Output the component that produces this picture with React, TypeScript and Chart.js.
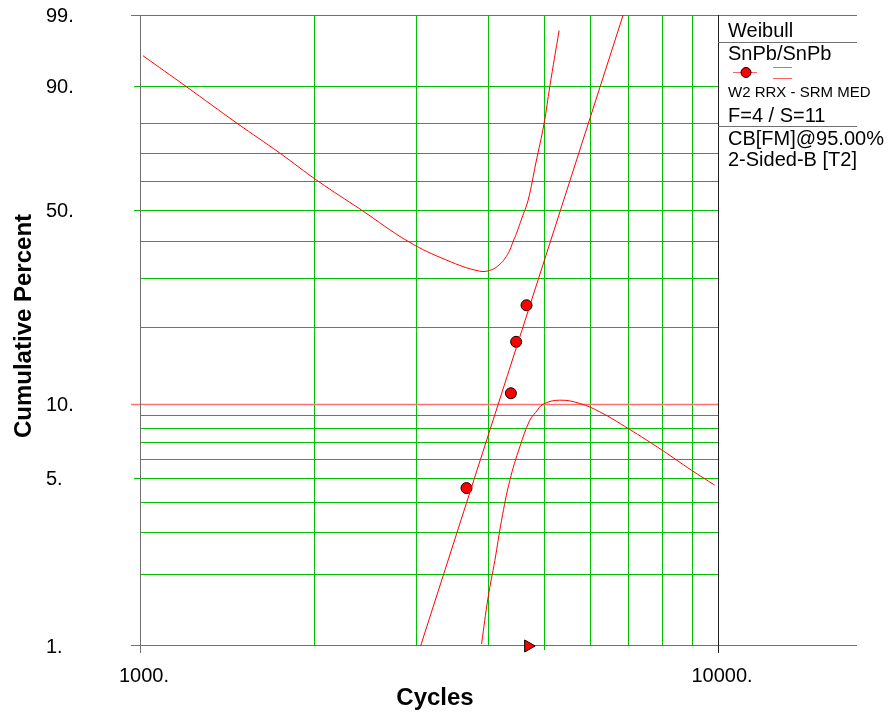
import React, { useEffect, useRef } from "react";
import { Chart, registerables } from "chart.js";

Chart.register(...registerables);

// Failures (median ranks) and the suspension marker
const failureCycles = [3672, 4382, 4475, 4664];
const failurePercent = [4.55, 11.04, 17.53, 24.03];
const suspensionCycles = [4694];
const suspensionPercent = [1];

// Weibull fit line (straight on probability paper)
const fitCycles = [3058, 6853];
const fitPercent = [1, 99];

// Two-sided 95% Fisher-matrix confidence bounds
const upperCycles = [1012, 1201, 1472, 1746, 2034, 2416, 2911, 3391, 3872, 4062, 4194, 4278, 4364, 4416, 4482, 4578, 4694, 4840, 5002, 5117, 5310];
const upperPercent = [95.5, 90, 80, 70, 60, 50, 40, 34.7, 31.8, 32.2, 33.6, 35.1, 37.5, 39.8, 42.5, 47.3, 53.4, 66.5, 80, 90, 98.1];
const lowerCycles = [3899, 4002, 4111, 4222, 4364, 4540, 4725, 4840, 4982, 5325, 5767, 6245, 6991, 8003, 8995, 9869];
const lowerPercent = [1.02, 1.6, 2.28, 3.35, 4.9, 6.71, 8.61, 9.27, 9.98, 10.36, 10.05, 9.3, 7.97, 6.51, 5.39, 4.68];

// Axes and grid
const gridCycles = [2000, 3000, 4000, 5000, 6000, 7000, 8000, 9000];
const xTickLabels = [1000, 10000];
const gridPercent = [2, 3, 4, 5, 6, 7, 8, 9, 20, 30, 40, 50, 60, 70, 80, 90];
const majorPercent = [5, 50, 90];
const referencePercent = 10;
const yTickLabels = [1, 5, 10, 50, 90, 99];
const yMinPercent = 1;
const yMaxPercent = 99;
const xMinCycles = 1000;
const xMaxCycles = 10000;

// Legend panel text
const legendTitle = "Weibull";
const legendGroup = "SnPb/SnPb";
const legendMethod = "W2 RRX - SRM MED";
const legendCounts = "F=4 / S=11";
const legendBounds = ["CB[FM]@95.00%", "2-Sided-B [T2]"];

const FONT = '"Liberation Sans", Arial, Helvetica, sans-serif';
const GREEN = "#00c000";
const AXIS = "#707070";

// Weibull probability-paper ordinate
const wb = (p: number) => Math.log(-Math.log(1 - p / 100));

const toPoints = (xs: number[], ps: number[]) => xs.map((v, i) => ({ x: v, y: wb(ps[i]) }));

const paperPlugin = {
  id: "weibullPaper",
  beforeDatasetsDraw(chart: any) {
    const { ctx, chartArea: a, scales } = chart;
    const xs = scales.x;
    const ys = scales.y;
    const seg = (x0: number, y0: number, x1: number, y1: number) => {
      ctx.beginPath();
      ctx.moveTo(x0, y0);
      ctx.lineTo(x1, y1);
      ctx.stroke();
    };
    ctx.save();
    ctx.lineWidth = 1;
    ctx.strokeStyle = GREEN;
    for (const c of gridCycles) {
      const px = Math.round(xs.getPixelForValue(c)) + 0.5;
      seg(px, a.top, px, a.bottom + (c === 5000 ? 4 : 0));
    }
    for (const p of gridPercent) {
      const py = Math.round(ys.getPixelForValue(wb(p))) + 0.5;
      const x0 = majorPercent.includes(p) ? a.left - 6 : a.left;
      seg(x0, py, a.right, py);
    }
    // reference line at 10 %
    ctx.strokeStyle = "#ff7070";
    ctx.lineWidth = 1.5;
    const pr = Math.round(ys.getPixelForValue(wb(referencePercent))) + 0.5;
    seg(a.left - 9, pr, a.right, pr);

    // frame
    const panelRight = a.right + 139;
    ctx.lineWidth = 1;
    ctx.strokeStyle = AXIS;
    const top = Math.round(a.top) + 0.5;
    const bottom = Math.round(a.bottom) - 0.5;
    seg(a.left - 9, top, panelRight, top);
    seg(a.left - 9, bottom, panelRight, bottom);
    seg(Math.round(a.left) + 0.5, a.top, Math.round(a.left) + 0.5, a.bottom + 7);
    ctx.strokeStyle = "#202020";
    seg(Math.round(a.right) + 0.5, a.top, Math.round(a.right) + 0.5, a.bottom + 7);
    ctx.restore();
  },
  afterDraw(chart: any) {
    const { ctx, chartArea: a, scales } = chart;
    const xs = scales.x;
    const ys = scales.y;
    const seg = (x0: number, y0: number, x1: number, y1: number) => {
      ctx.beginPath();
      ctx.moveTo(x0, y0);
      ctx.lineTo(x1, y1);
      ctx.stroke();
    };
    ctx.save();
    ctx.fillStyle = "#000";
    ctx.font = `20px ${FONT}`;
    ctx.textBaseline = "alphabetic";
    // y tick labels
    ctx.textAlign = "left";
    for (const p of yTickLabels) {
      const py = ys.getPixelForValue(wb(p));
      ctx.fillText(`${p}.`, 46, py + 7);
    }
    // x tick labels
    ctx.textAlign = "center";
    for (const c of xTickLabels) {
      const px = xs.getPixelForValue(c);
      ctx.fillText(`${c}.`, px + 4, 682);
    }
    // axis titles
    ctx.font = `bold 24px ${FONT}`;
    ctx.fillText("Cycles", 435, 705);
    ctx.save();
    ctx.translate(31, 326);
    ctx.rotate(-Math.PI / 2);
    ctx.fillText("Cumulative Percent", 0, 0);
    ctx.restore();

    // legend panel
    const lx = a.right + 10;
    const panelRight = a.right + 139;
    ctx.textAlign = "left";
    ctx.font = `20px ${FONT}`;
    ctx.fillText(legendTitle, lx, 37);
    ctx.fillText(legendGroup, lx, 60);
    ctx.font = `15px ${FONT}`;
    ctx.fillText(legendMethod, lx, 97);
    ctx.font = `20px ${FONT}`;
    ctx.fillText(legendCounts, lx, 122);
    ctx.fillText(legendBounds[0], lx, 145);
    ctx.fillText(legendBounds[1], lx, 166);

    ctx.strokeStyle = AXIS;
    ctx.lineWidth = 1;
    seg(a.right, 42.5, panelRight, 42.5);
    seg(a.right, 126.5, panelRight, 126.5);

    // legend symbols
    ctx.strokeStyle = "#ff6060";
    seg(a.right + 15, 72.5, a.right + 39, 72.5);
    seg(a.right + 55, 67.5, a.right + 74, 67.5);
    seg(a.right + 55, 78.5, a.right + 74, 78.5);
    ctx.beginPath();
    ctx.arc(a.right + 28, 72.5, 5, 0, Math.PI * 2);
    ctx.fillStyle = "#ff0000";
    ctx.fill();
    ctx.strokeStyle = "#000";
    ctx.stroke();
    ctx.restore();
  },
};

export default function App() {
  const canvasRef = useRef<HTMLCanvasElement | null>(null);

  useEffect(() => {
    if (!canvasRef.current) return;
    const chart = new Chart(canvasRef.current, {
      type: "scatter",
      data: {
        datasets: [
          {
            label: "Upper bound",
            data: toPoints(upperCycles, upperPercent),
            showLine: true,
            borderColor: "#ff0000",
            borderWidth: 1,
            pointRadius: 0,
            tension: 0.4,
          },
          {
            label: "Lower bound",
            data: toPoints(lowerCycles, lowerPercent),
            showLine: true,
            borderColor: "#ff0000",
            borderWidth: 1,
            pointRadius: 0,
            tension: 0.4,
          },
          {
            label: "Fit",
            data: toPoints(fitCycles, fitPercent),
            showLine: true,
            borderColor: "#ff0000",
            borderWidth: 1,
            pointRadius: 0,
          },
          {
            label: "Failures",
            data: toPoints(failureCycles, failurePercent),
            showLine: false,
            pointRadius: 5.5,
            pointBackgroundColor: "#ff0000",
            pointBorderColor: "#000",
            pointBorderWidth: 1,
            clip: false,
          },
          {
            label: "Suspensions",
            data: toPoints(suspensionCycles, suspensionPercent),
            showLine: false,
            pointStyle: "triangle",
            rotation: 90,
            pointRadius: 7,
            pointBackgroundColor: "#ff0000",
            pointBorderColor: "#000",
            pointBorderWidth: 1,
            clip: false,
          },
        ],
      } as any,
      options: {
        animation: false,
        responsive: false,
        devicePixelRatio: 1,
        events: [],
        layout: { padding: { left: 140, right: 171, top: 15, bottom: 67 } },
        scales: {
          x: { type: "logarithmic", min: xMinCycles, max: xMaxCycles, display: false },
          y: { type: "linear", min: wb(yMinPercent), max: wb(yMaxPercent), display: false },
        },
        plugins: { legend: { display: false }, tooltip: { enabled: false } },
      } as any,
      plugins: [paperPlugin],
    });
    return () => chart.destroy();
  }, []);

  return (
    <div style={{ position: "fixed", left: 0, top: 0, width: 889, height: 713, background: "#fff" }}>
      <canvas ref={canvasRef} width={889} height={713} style={{ display: "block" }} />
    </div>
  );
}
